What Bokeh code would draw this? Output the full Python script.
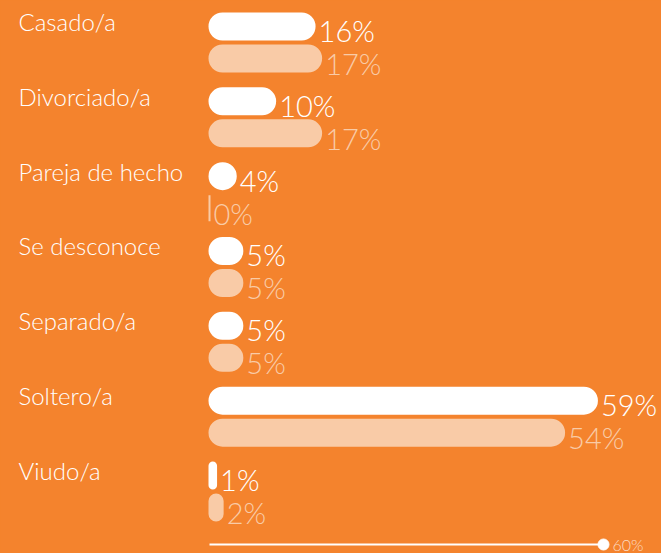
from bokeh.plotting import figure
from bokeh.models import ColumnDataSource, Range1d
from bokeh.core.properties import value
from bokeh.embed import file_html
from bokeh.resources import INLINE

# ---- data ----
categories = ["Casado/a", "Divorciado/a", "Pareja de hecho", "Se desconoce",
              "Separado/a", "Soltero/a", "Viudo/a"]
serie_a = [16, 10, 4, 5, 5, 59, 1]
serie_b = [17, 17, 0, 5, 5, 54, 2]
axis_max = 60
axis_label = "60%"

# ---- style ----
BG = "#F4832D"
WHITE = "#FFFFFF"
PEACH = "#F9CBA7"
AXIS_TXT = "#FCDCC4"
FONT_CAT = "Lato Light"
FONT_VAL = "Lato Light"

W, H = 661, 553
px_per = 394 / 60.0
x0_px = 209
row_px = 74.83
row0_px = 42

xr = Range1d(-x0_px / px_per, (W - x0_px) / px_per)
yr = Range1d((H - row0_px) / row_px, -row0_px / row_px)

p = figure(width=W, height=H, x_range=xr, y_range=yr, output_backend="svg",
           toolbar_location=None, min_border=0, x_axis_location=None,
           y_axis_location=None, background_fill_color=BG,
           border_fill_color=BG, outline_line_color=None)
p.grid.visible = False

dy = 16 / row_px
bh = 26 / row_px
rows = list(range(len(categories)))
src = ColumnDataSource(dict(
    cat=categories,
    ya=[i - dy for i in rows],
    yb=[i + dy for i in rows],
    yla=[i - dy + 4 / row_px for i in rows],
    ylb=[i + dy + 5 / row_px for i in rows],
    ycat=[i - dy - 5 / row_px for i in rows],
    a=serie_a, b=serie_b,
    la=[f"{v}%" for v in serie_a],
    lb=[f"{v}%" for v in serie_b],
))

p.hbar(y="ya", left=0, right="a", height=bh, fill_color=WHITE, line_color=WHITE,
       line_width=2, border_radius=13, source=src)
p.hbar(y="yb", left=0, right="b", height=bh, fill_color=PEACH, line_color=PEACH,
       line_width=2, border_radius=13, source=src)

p.text(x="a", y="yla", text="la", x_offset=4, text_color=WHITE,
       text_font=value(FONT_VAL), text_font_size="29px", text_baseline="middle",
       text_align="left", source=src)
p.text(x="b", y="ylb", text="lb", x_offset=4, text_color=PEACH,
       text_font=value(FONT_VAL), text_font_size="29px", text_baseline="middle",
       text_align="left", source=src)

cat_x = (18 - x0_px) / px_per
p.text(x=cat_x, y="ycat", text="cat", text_color=WHITE, text_font=value(FONT_CAT),
       text_font_size="24px", text_baseline="middle", text_align="left", source=src)

ay = (544 - row0_px) / row_px
p.segment(x0=[0], x1=[axis_max], y0=[ay], y1=[ay], line_color=WHITE, line_width=2)
p.scatter(x=[axis_max], y=[ay], size=11, color=WHITE)
p.text(x=[axis_max], y=[ay], text=[axis_label], x_offset=9, text_color=AXIS_TXT,
       text_font=value(FONT_VAL), text_font_size="16px", text_baseline="middle",
       text_align="left")

html = file_html(p, INLINE)
html = html.replace("</head>",
                    f"<style>html,body{{margin:0;padding:0;background:{BG};}}</style></head>", 1)
open("out.html", "w").write(html)
